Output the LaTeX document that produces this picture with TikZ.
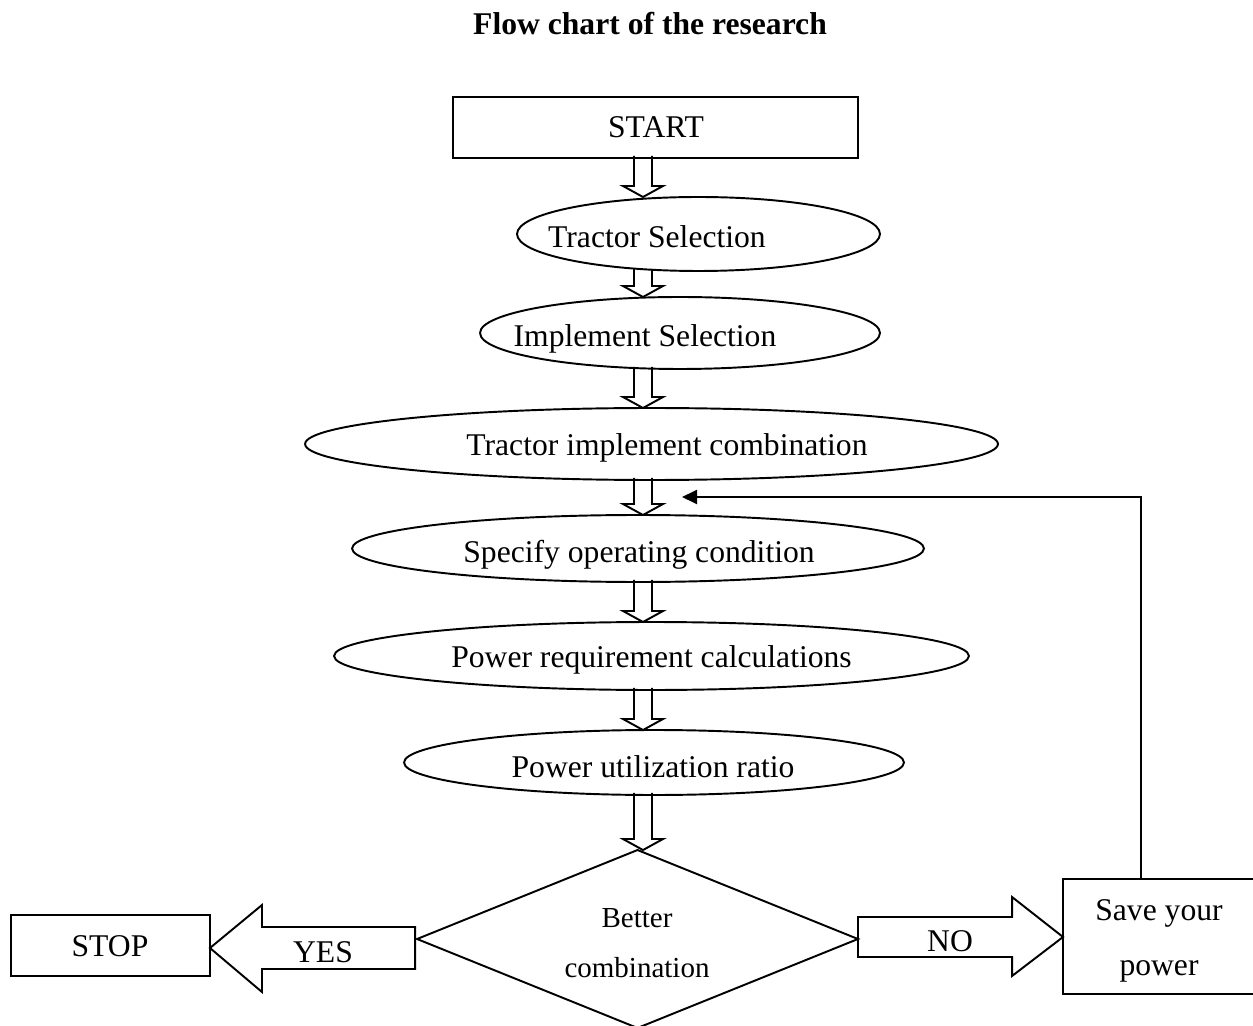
\documentclass[tikz,border=0pt]{standalone}
\usepackage{fontspec}
\setmainfont{Liberation Serif}
\usetikzlibrary{calc,arrows.meta,shapes.geometric}

\newcommand{\blkdown}[2]{%
  \path (#1.south -| axis) coordinate (s) (#2.north -| axis) coordinate (e);
  \draw[blk] ($(s)+(-9,-2)$) -- ($(e)+(-9,-11)$) -- ($(e)+(-20,-11)$) -- (e)
     -- ($(e)+(20,-11)$) -- ($(e)+(9,-11)$) -- ($(s)+(9,-2)$);%
}

\begin{document}
\begin{tikzpicture}[x=0.02cm,y=-0.02cm,
  lw/.style={line width=1.1pt},
  box/.style={draw,lw,rectangle,inner sep=0pt,outer sep=0pt},
  ell/.style={draw,lw,ellipse,inner sep=0pt,outer sep=0pt},
  dia/.style={draw,lw,diamond,inner sep=0pt,outer sep=0pt},
  txt/.style={font=\fontsize{18}{20}\selectfont,inner sep=0pt,anchor=base},
  small/.style={font=\fontsize{16.5}{18}\selectfont,inner sep=0pt,anchor=base},
  blk/.style={draw,lw,line join=miter},
]
\useasboundingbox (0,0) rectangle (1253,1026);

\coordinate (axis) at (643,0);
\coordinate (fbx) at (1141,0);
\coordinate (fbend) at (682,497);

% title
\node[txt,font=\bfseries\fontsize{18}{20}\selectfont] (title) at (650,35) {Flow chart of the research};

% start
\node[box,minimum width=8.1cm,minimum height=1.22cm] (start) at (655.5,127.5) {};
\node[txt] (tstart) at (656,138) {START};

% ellipses
\node[ell,minimum width=7.26cm,minimum height=1.48cm] (e1) at (698.5,234) {};
\node[txt] (t1) at (657,248) {Tractor Selection};

\node[ell,minimum width=8.0cm,minimum height=1.44cm] (e2) at (680,333) {};
\node[txt] (t2) at (645,347) {Implement Selection};

\node[ell,minimum width=13.86cm,minimum height=1.44cm] (e3) at (651.5,444) {};
\node[txt] (t3) at (667,456) {Tractor implement combination};

\node[ell,minimum width=11.44cm,minimum height=1.34cm] (e4) at (638,548.5) {};
\node[txt] (t4) at (639,562) {Specify operating condition};

\node[ell,minimum width=12.7cm,minimum height=1.36cm] (e5) at (651.5,656) {};
\node[txt] (t5) at (651.5,667) {Power requirement calculations};

\node[ell,minimum width=10.0cm,minimum height=1.3cm] (e6) at (654,762.5) {};
\node[txt] (t6) at (653,777) {Power utilization ratio};

% decision
\node[dia,minimum width=8.82cm,minimum height=3.56cm] (dec) at (637.5,939) {};
\node[small] (tdec1) at (637,927) {Better};
\node[small] (tdec2) at (637,977) {combination};

% stop and save
\node[box,minimum width=3.98cm,minimum height=1.22cm] (stop) at (110.5,945.5) {};
\node[txt] (tstop) at (110,956) {STOP};

\node[box,minimum width=3.86cm,minimum height=2.3cm] (save) at (1159.5,936.5) {};
\node[txt] (tsave1) at (1159,920) {Save your};
\node[txt] (tsave2) at (1159,975) {power};

% block arrows down
\blkdown{start}{e1}
\blkdown{e1}{e2}
\blkdown{e2}{e3}
\blkdown{e3}{e4}
\blkdown{e4}{e5}
\blkdown{e5}{e6}
\blkdown{e6}{dec}

% YES arrow (to the left)
\path (dec.west) ++(-2,9) coordinate (ys);
\path (stop.east |- ys) coordinate (ye);
\draw[blk] ($(ys)+(0,-21)$) -- ($(ye)+(52,-21)$) -- ($(ye)+(52,-43)$) -- (ye)
  -- ($(ye)+(52,44)$) -- ($(ye)+(52,21)$) -- ($(ys)+(0,21)$) -- cycle;
\node[txt] (tyes) at (323,962) {YES};

% NO arrow (to the right)
\path (dec.east) ++(0,-2) coordinate (ns);
\path (save.west |- ns) coordinate (ne);
\draw[blk] ($(ns)+(0,-20)$) -- ($(ne)+(-51,-20)$) -- ($(ne)+(-51,-40)$) -- (ne)
  -- ($(ne)+(-51,39)$) -- ($(ne)+(-51,20)$) -- ($(ns)+(0,20)$) -- cycle;
\node[txt] (tno) at (950,951) {NO};

% feedback
\draw[lw,-{Triangle[length=0.3cm,width=0.28cm]}] (save.north -| fbx) |- (fbend);
\end{tikzpicture}
\end{document}
